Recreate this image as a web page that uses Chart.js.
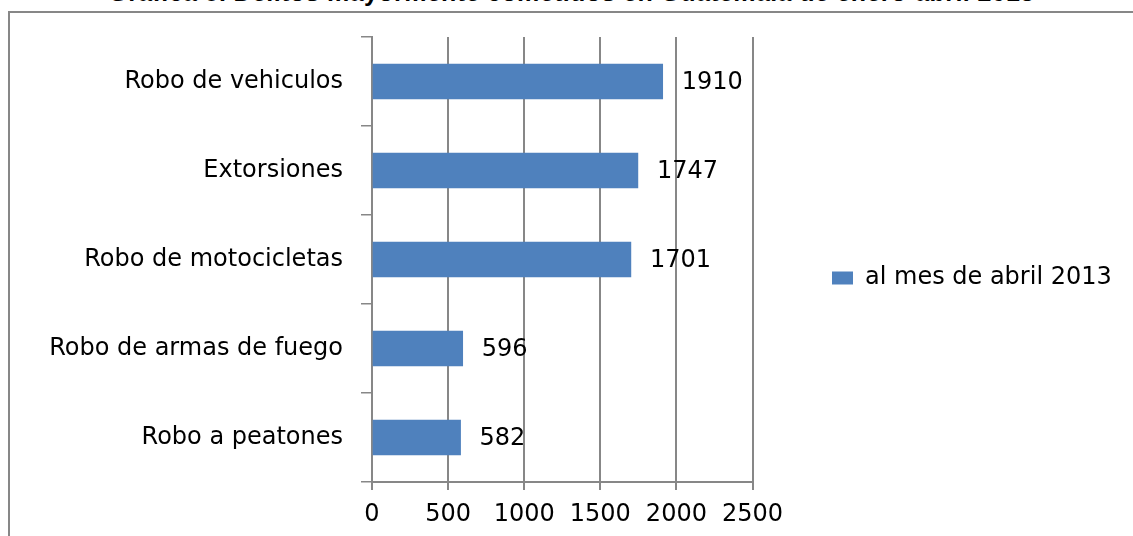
<!DOCTYPE html>
<html>
<head>
<meta charset="utf-8">
<script src="https://cdn.jsdelivr.net/npm/chart.js@4.4.1/dist/chart.umd.min.js"></script>
<style>
body{margin:0;width:1133px;height:536px;overflow:hidden;background:#fff;position:relative;}
#title{position:absolute;left:0;width:1143px;top:-20px;text-align:center;font:bold 25px "Liberation Sans";line-height:25px;letter-spacing:0.4px;color:#000;white-space:nowrap;}
#box{position:absolute;left:8px;top:11px;width:1200px;height:600px;border-left:2px solid #878787;border-top:2px solid #878787;}
#stats-chart{position:absolute;left:0;top:0;}
</style>
</head>
<body>
<div id="title">Gráfica 8. Delitos mayormente cometidos en Guatemala de enero-abril 2013</div>
<div id="box"><canvas id="stats-chart" width="1123" height="523"></canvas></div>
<script>
// data
const categories = ["Robo de vehiculos", "Extorsiones", "Robo de motocicletas", "Robo de armas de fuego", "Robo a peatones"];
const values = [1910, 1747, 1701, 596, 582];
const xTicks = [0, 500, 1000, 1500, 2000, 2500];
const seriesName = "al mes de abril 2013";

const gray = '#878787';
const fontName = '"DejaVu Sans"';

// number next to each bar
const valueLabels = {
    id: 'valueLabels',
    afterDatasetsDraw(chart){
        const ctx = chart.ctx;
        const meta = chart.getDatasetMeta(0);
        ctx.save();
        ctx.font = '24px ' + fontName;
        ctx.fillStyle = '#000';
        ctx.textBaseline = 'middle';
        ctx.textAlign = 'left';
        meta.data.forEach((bar, i) => {
            ctx.fillText(values[i], bar.x + 19, bar.y + 1);
        });
        ctx.restore();
    }
};

// put the legend where excel had it
const legendSpot = {
    id: 'legendSpot',
    afterLayout(chart){
        const lg = chart.legend;
        if(!lg) return;
        const h = lg.height;
        lg.left = 812; lg.right = lg.left + 320;
        lg.top = 243; lg.bottom = lg.top + h;
    }
};

function main(){
    "use strict";
    new Chart("stats-chart", {
        type: 'bar',
        data: {
            labels: categories,
            datasets: [{
                label: seriesName,
                data: values,
                backgroundColor: '#4F81BD',
                borderWidth: 0,
                barThickness: 35
            }]
        },
        options: {
            indexAxis: 'y',
            responsive: false,
            animation: false,
            devicePixelRatio: 1,
            layout: {
                padding: {left: 0, top: 24, right: 133, bottom: 0}
            },
            scales: {
                x: {
                    type: 'linear',
                    min: xTicks[0],
                    max: xTicks[xTicks.length - 1],
                    afterBuildTicks(scale){
                        scale.ticks = xTicks.map(v => ({value: v}));
                    },
                    afterFit(scale){ scale.height = 54; },
                    ticks: {
                        color: '#000',
                        font: {family: fontName, size: 24},
                        padding: 10,
                        maxRotation: 0,
                        callback: v => String(v)
                    },
                    grid: {color: gray, lineWidth: 2, tickLength: 8},
                    border: {color: gray, width: 2}
                },
                y: {
                    afterFit(scale){
                        scale.width = 362;
                        scale.paddingTop = 0;
                        scale.paddingBottom = 0;
                    },
                    ticks: {
                        color: '#000',
                        font: {family: fontName, size: 24},
                        padding: 18
                    },
                    grid: {color: gray, lineWidth: 1.5, drawOnChartArea: false, tickLength: 11},
                    border: {color: gray, width: 2}
                }
            },
            plugins: {
                legend: {
                    position: 'right',
                    align: 'start',
                    labels: {
                        boxWidth: 21,
                        boxHeight: 13,
                        padding: 10,
                        color: '#000',
                        font: {family: fontName, size: 24}
                    }
                },
                tooltip: {enabled: false},
                title: {display: false}
            }
        },
        plugins: [valueLabels, legendSpot]
    });
}

main();
</script>
</body>
</html>
